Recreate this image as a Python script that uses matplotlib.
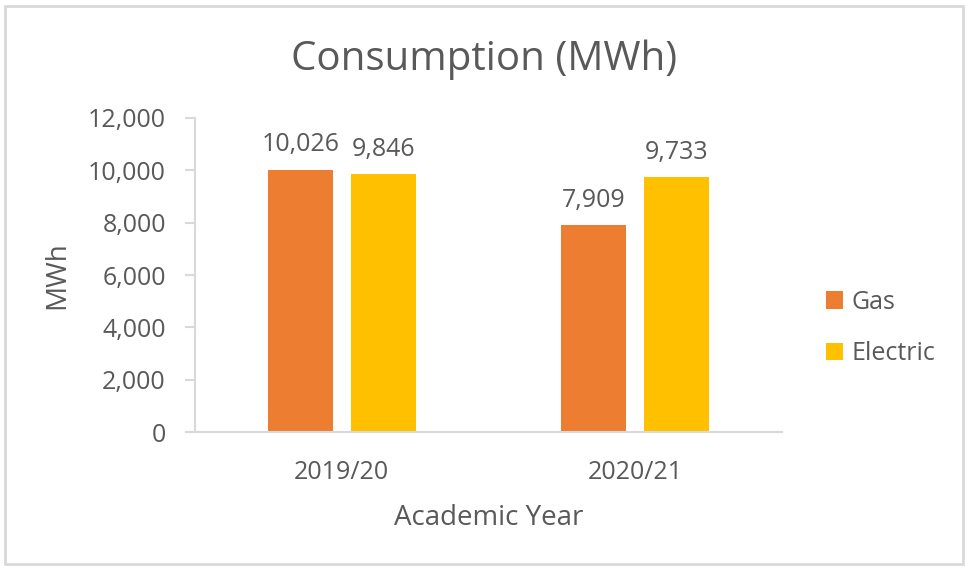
import matplotlib.pyplot as plt
from matplotlib.patches import Rectangle
from matplotlib.ticker import FuncFormatter

plt.rcParams['font.family'] = ['Open Sans', 'DejaVu Sans']

years = ['2019/20', '2020/21']
gas = [10026, 7909]
electric = [9846, 9733]

text_col = '#595959'
grid_col = '#D9D9D9'

fig = plt.figure(figsize=(9.65, 5.68), dpi=100)
ax = fig.add_axes([195 / 965, 1 - 432 / 568, (782 - 195) / 965, (432 - 118) / 568])

x = list(range(len(years)))
w = 0.222
off = 0.141
b1 = ax.bar([i - off for i in x], gas, width=w, color='#ED7D31', label='Gas')
b2 = ax.bar([i + off for i in x], electric, width=w, color='#FFC000', label='Electric')

for bars in (b1, b2):
    for r in bars:
        ax.annotate(f'{int(r.get_height()):,}', (r.get_x() + r.get_width() / 2, r.get_height()),
                    xytext=(0, 9), textcoords='offset points', ha='center', va='bottom',
                    fontsize=18, color=text_col)

ax.set_xlim(-0.5, 1.5)
ax.set_ylim(0, 12000)
ax.set_yticks(range(0, 12001, 2000))
ax.yaxis.set_major_formatter(FuncFormatter(lambda v, p: f'{int(v):,}'))
ax.set_xticks(x)
ax.set_xticklabels(years)

for s in ['top', 'right']:
    ax.spines[s].set_visible(False)
for s in ['left', 'bottom']:
    ax.spines[s].set_color(grid_col)
    ax.spines[s].set_linewidth(1.5)
ax.tick_params(axis='y', colors=grid_col, labelcolor=text_col, labelsize=18, length=7, width=1.5, pad=14)
ax.tick_params(axis='x', length=0, labelcolor=text_col, labelsize=18, pad=20)

ax.set_ylabel('MWh', fontsize=20, color=text_col, labelpad=12)
ax.set_xlabel('Academic Year', fontsize=20, color=text_col, labelpad=14)
fig.text(484 / 965, 1 - 60 / 568, 'Consumption (MWh)', ha='center', va='center',
         fontsize=29, color=text_col)

leg = fig.legend(handles=[b1, b2], loc='center left', bbox_to_anchor=(803 / 965, 1 - 328 / 568),
                 frameon=False, fontsize=18, labelcolor=text_col, handlelength=0.7,
                 handleheight=0.7, handletextpad=0.35, labelspacing=1.05)

fig.patches.append(Rectangle((5 / 965, 4 / 568), 958 / 965, 558 / 568, transform=fig.transFigure,
                             fill=False, edgecolor=grid_col, linewidth=2))

fig.savefig('out.png', dpi=100)
